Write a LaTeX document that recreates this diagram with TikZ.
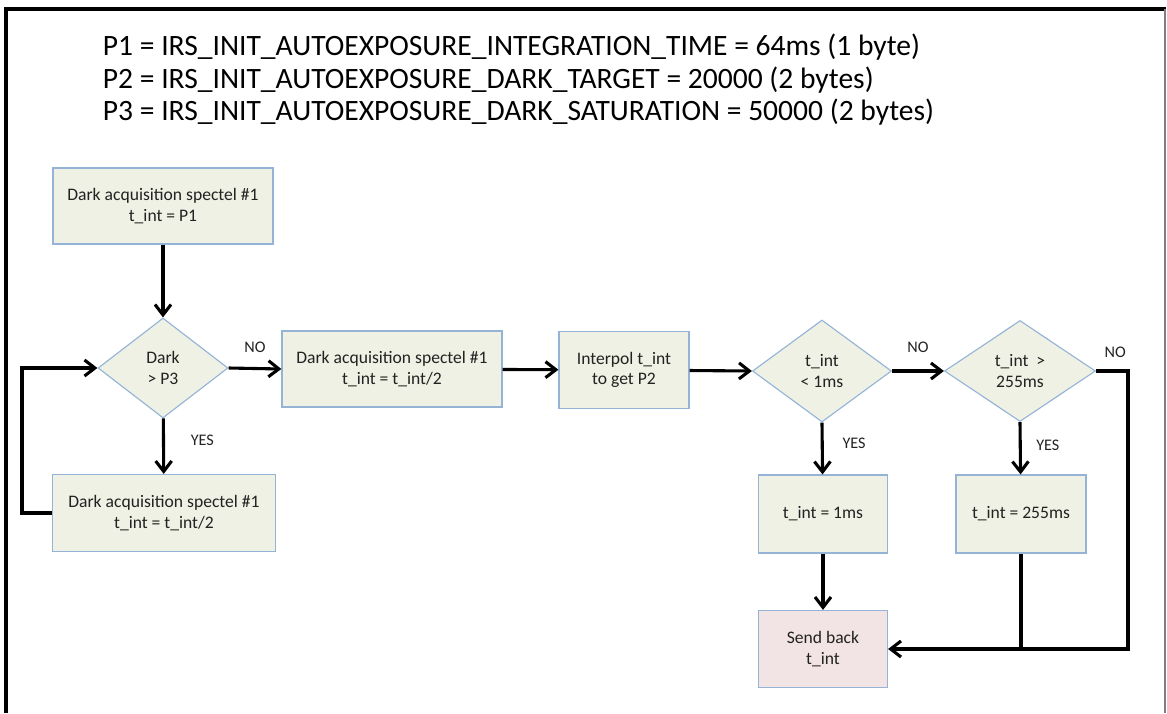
\documentclass[tikz,border=0pt]{standalone}
\usepackage{fontspec}
\setmainfont{Carlito}
\usetikzlibrary{shapes.geometric, arrows.meta, positioning}
\definecolor{boxolive}{HTML}{EEF1E3}
\definecolor{boxedge}{HTML}{95B3D7}
\definecolor{sendpink}{HTML}{F2E4E4}
\definecolor{inkgray}{HTML}{222222}
\tikzset{
  procbox/.style={draw=boxedge, fill=boxolive, line width=0.8pt, align=center, inner sep=2pt, text=inkgray, font=\fontsize{12.5}{14.5}\selectfont},
  decision/.style={diamond, draw=boxedge, fill=boxolive, line width=0.8pt, align=center, inner sep=0pt, text=inkgray, font=\fontsize{12.5}{15.5}\selectfont},
  flowarrow/.style={-{Straight Barb[length=2.6mm, width=4mm]}, line width=2.2pt, black},
  flowline/.style={line width=2.2pt, black},
  answer/.style={text=inkgray, font=\fontsize{11.5}{11.5}\selectfont},
  param/.style={anchor=base west, font=\fontsize{21}{21}\selectfont}
}

\begin{document}
\begin{tikzpicture}[x=0.025cm, y=-0.025cm]
  \useasboundingbox (0,0) rectangle (1167,713);

  % Frame
  \draw[line width=2.2pt] (6,713) -- (6,9) -- (1166,9);
  \draw[gray, line width=0.8pt] (1165,9) -- (1165,713);

  % Parameters
  \node[param] (p1) at (98,55) {P1 = IRS\_INIT\_AUTOEXPOSURE\_INTEGRATION\_TIME = 64ms (1 byte)};
  \node[param] (p2) at (98,88) {P2 = IRS\_INIT\_AUTOEXPOSURE\_DARK\_TARGET = 20000 (2 bytes)};
  \node[param] (p3) at (98,120) {P3 = IRS\_INIT\_AUTOEXPOSURE\_DARK\_SATURATION = 50000 (2 bytes)};

  % Dark loop
  \node[procbox, minimum width=5.5cm, minimum height=1.9cm] (darkinit) at (163,206) {Dark acquisition spectel \#1\\t\_int = P1};
  \node[decision, minimum width=3.25cm, minimum height=2.5cm] (darktest) at (163,368) {Dark\\> P3};
  \node[procbox, minimum width=5.575cm, minimum height=1.925cm] (darkhalf) at (164,513) {Dark acquisition spectel \#1\\t\_int = t\_int/2};
  \coordinate (loopturn) at (22,513);

  % Main line
  \node[procbox, minimum width=5.5cm, minimum height=1.9cm] (darknext) at (392,369) {Dark acquisition spectel \#1\\t\_int = t\_int/2};
  \node[procbox, minimum width=3.25cm, minimum height=1.925cm] (interpol) at (624,370) {Interpol t\_int\\to get P2};
  \node[decision, minimum width=3.475cm, minimum height=2.55cm] (lowtest) at (822,371) {t\_int\\< 1ms};
  \node[decision, minimum width=3.775cm, minimum height=2.525cm] (hightest) at (1020,371) {t\_int~~>\\255ms};

  % Clamps and result
  \node[procbox, minimum width=3.225cm, minimum height=1.95cm] (lowclamp) at (823,514) {t\_int = 1ms};
  \node[procbox, minimum width=3.25cm, minimum height=1.95cm] (highclamp) at (1021,514) {t\_int = 255ms};
  \node[procbox, fill=sendpink, minimum width=3.225cm, minimum height=1.925cm] (sendback) at (823,649) {Send back\\t\_int};
  \coordinate (rightturn) at (1128,371);

  % Connectors
  \draw[flowarrow] (darkinit) -- (darktest);
  \draw[flowarrow] (darktest) -- node[answer, right=15pt, pos=0.4] {YES} (darkhalf);
  \draw[flowarrow] (darkhalf.west) -- (loopturn) |- (darktest.west);
  \draw[flowarrow] (darktest.east) -- node[answer, above=7pt] {NO} (darknext.west);
  \draw[flowarrow] (darknext) -- (interpol);
  \draw[flowarrow] (interpol) -- (lowtest.west);
  \draw[flowarrow] (lowtest.east) -- node[answer, above=9pt] {NO} (hightest.west);
  \draw[flowarrow] (lowtest.south) -- node[answer, right=10pt, pos=0.4] {YES} (lowclamp);
  \draw[flowarrow] (hightest.south) -- node[answer, right=7pt, pos=0.45] {YES} (highclamp);
  \draw[flowarrow] (lowclamp) -- (sendback);
  \draw[flowarrow] (hightest.east) -- node[answer, above=5pt, pos=0.6] {NO} (rightturn) |- (sendback.east);
  \draw[flowline] (highclamp.south) -- (highclamp.south |- sendback.east);
\end{tikzpicture}
\end{document}
